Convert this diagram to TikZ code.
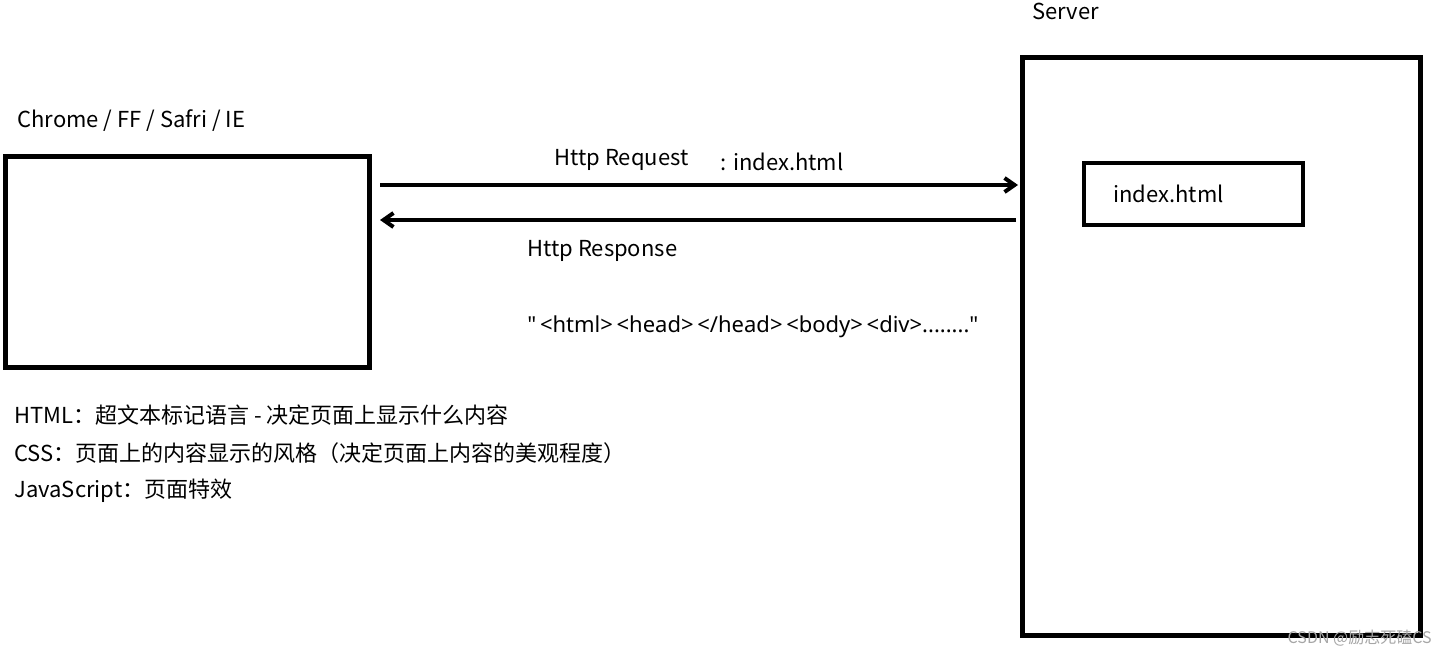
\documentclass[tikz,border=0pt]{standalone}
\usepackage{fontspec}
\setmainfont{Noto Sans CJK SC}
\newfontfamily\latinfont{Noto Sans}
\usetikzlibrary{positioning,arrows.meta}
\tikzset{
	frame box/.style={draw, line width=2.5pt, inner sep=0pt},
	label text/.style={font=\fontsize{11}{13}\selectfont, inner sep=0pt},
	http arrow/.style={line width=2pt, -{Straight Barb[length=5pt,width=7pt]}},
}

\begin{document}
\begin{tikzpicture}[x=0.5pt,y=-0.5pt]
\useasboundingbox (0,0) rectangle (1446,658);

\node[frame box, minimum width=182pt, minimum height=105pt] (browser) at (187.5,262) {};
	\node[label text, anchor=west] (browserLabel) at (17,121) {Chrome / FF / Safri / IE};

\node[frame box, minimum width=199pt, minimum height=288.5pt] (server) at (1221,346.5) {};
	\node[label text, anchor=west] (serverLabel) at (1032,11) {Server};
	\node[frame box, line width=2pt, minimum width=109.5pt, minimum height=31pt] (indexFile) at (1193.5,194) {};
		\node[label text, anchor=west] (indexLabel) at (1113,194) {index.html};

\coordinate (reqStart) at (380,185);
\coordinate (reqEnd) at (1018,185);
\coordinate (resStart) at (1016,220);
\coordinate (resEnd) at (380,220);
\draw[http arrow] (reqStart) -- (reqEnd);
\draw[http arrow] (resStart) -- (resEnd);

\node[label text, anchor=west] (request) at (554,160) {Http Request};
\node[label text, anchor=west] (requestFile) at (720,162) {: index.html};
\node[label text, anchor=west] (response) at (527,251) {Http Response};
\node[label text, anchor=west] (payload) at (527,327) {\latinfont "\,{<}html{>}\,{<}head{>}\,{<}/head{>}\,{<}body{>}\,{<}div{>}........"};

\node[label text, anchor=west] (htmlNote) at (14,415) {HTML：超文本标记语言 - 决定页面上显示什么内容};
\node[label text, anchor=west] (cssNote) at (14,453) {CSS：页面上的内容显示的风格（决定页面上内容的美观程度）};
\node[label text, anchor=west] (jsNote) at (14,491) {JavaScript：页面特效};

\node[label text, anchor=east, text=gray!70, font=\fontsize{8}{10}\selectfont] (mark) at (1432,638) {CSDN @励志死磕CS};
\end{tikzpicture}
\end{document}
